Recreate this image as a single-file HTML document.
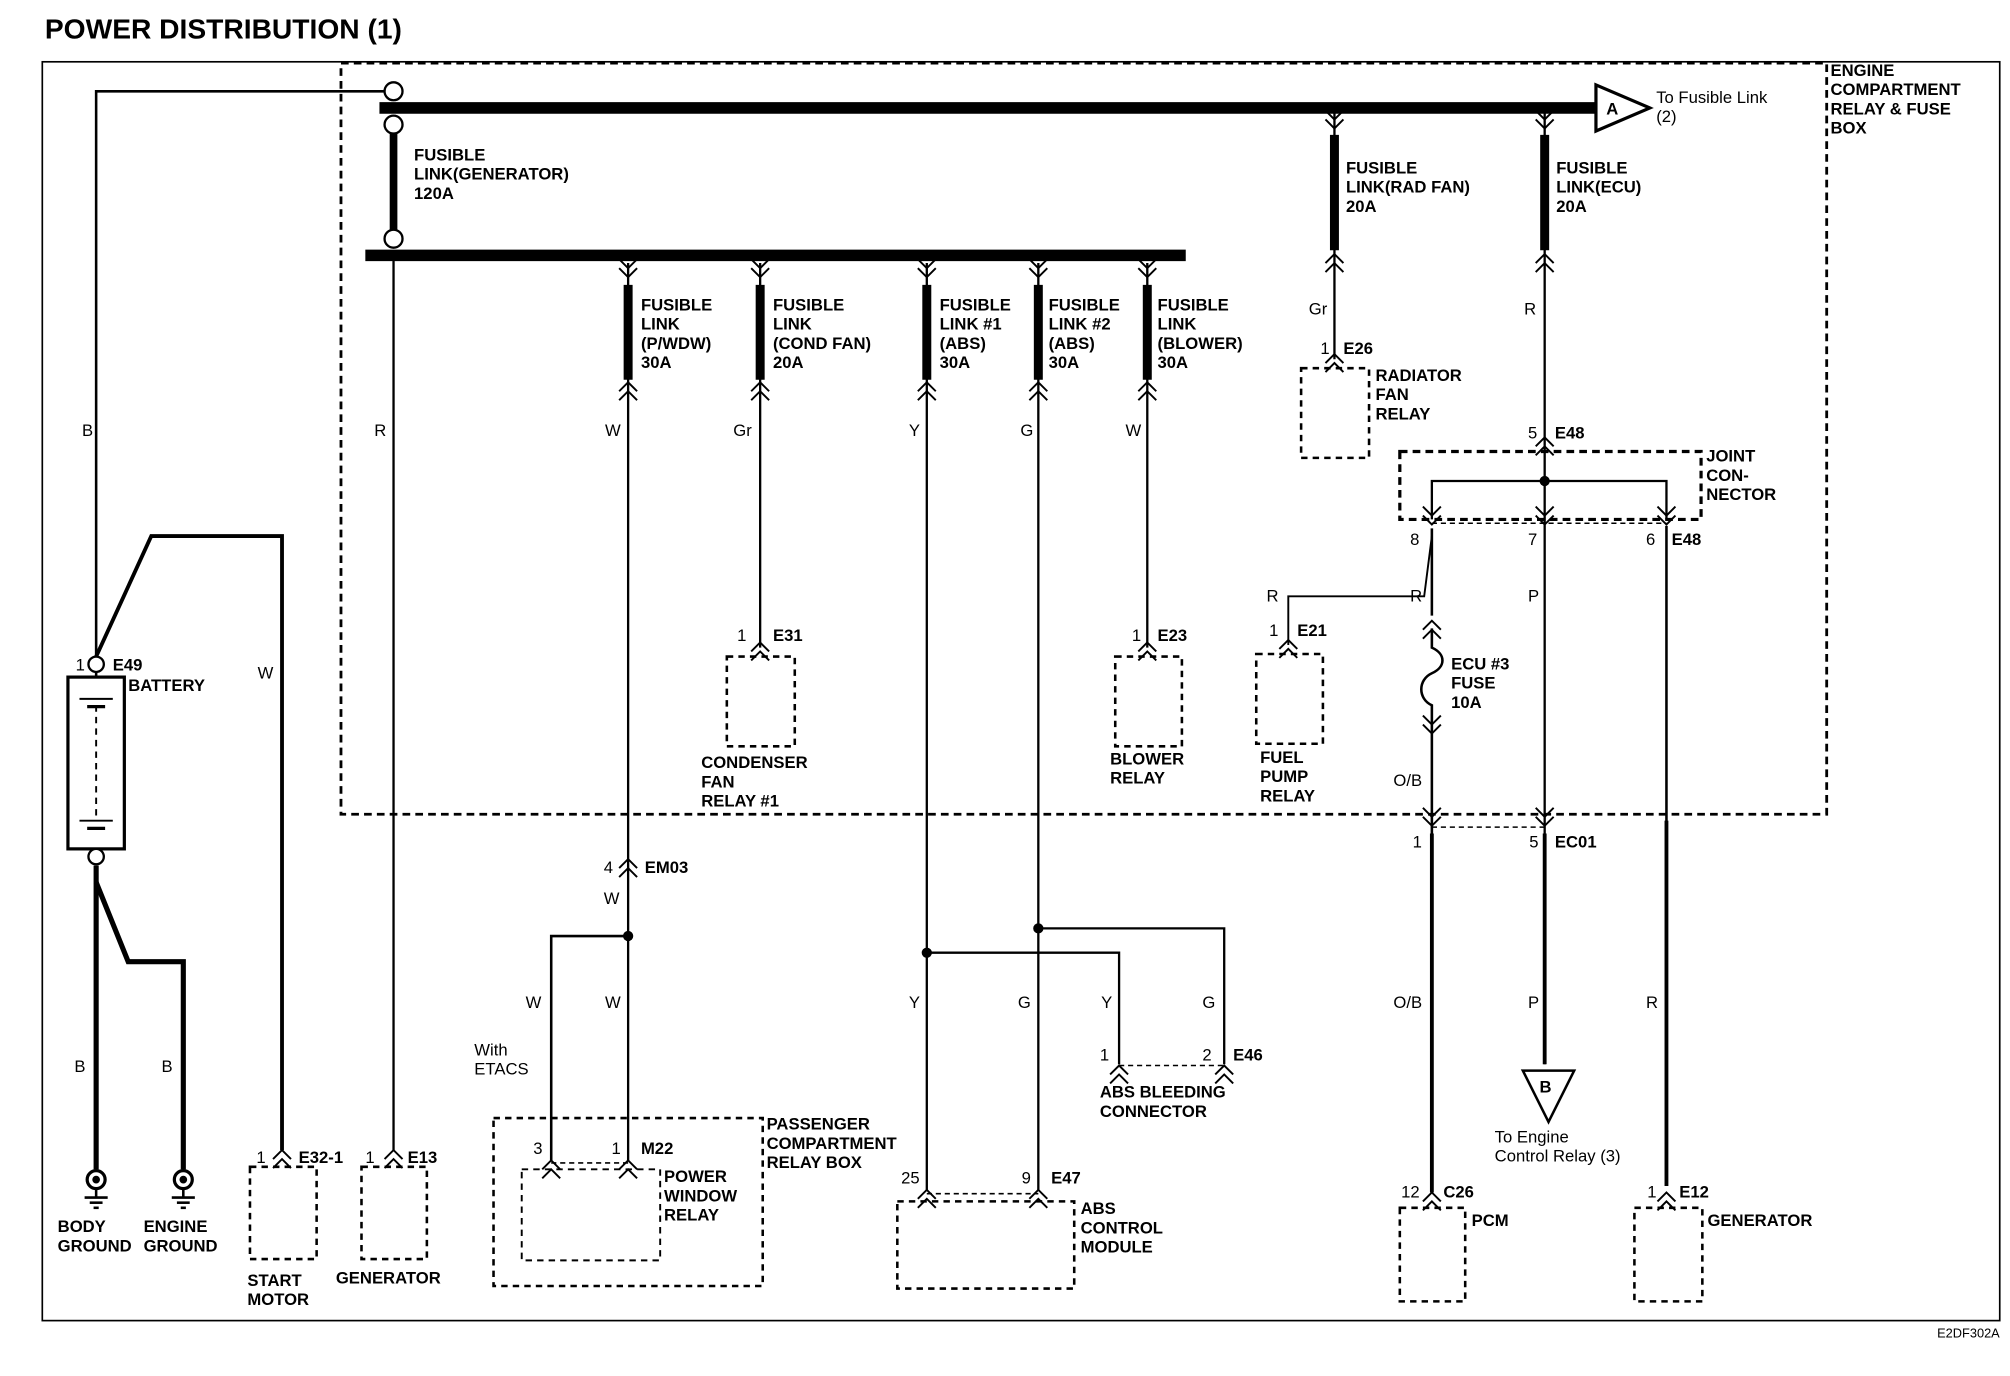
<!DOCTYPE html>
<html><head><meta charset="utf-8"><style>
html,body{margin:0;padding:0;background:#fff}
svg{display:block}
text{font-family:"Liberation Sans",Arial,sans-serif;font-weight:bold;font-size:13px;fill:#000}
.n{font-weight:normal}
</style></head><body>
<svg width="2010" height="1376" viewBox="0 0 1568 1073" xmlns="http://www.w3.org/2000/svg">
<defs>
<path id="cd" d="M-7,-10 L0,-3 L7,-10 M-7,-3 L0,4 L7,-3" fill="none" stroke="#000" stroke-width="1.5"/>
<path id="cu" d="M-7,10 L0,3 L7,10 M-7,3 L0,-4 L7,3" fill="none" stroke="#000" stroke-width="1.5"/>
</defs>
<text x="35" y="30" style="font-size:22px">POWER DISTRIBUTION (1)</text>
<rect x="33" y="48" width="1527" height="982" fill="none" stroke="#000" stroke-width="1.3"/>
<rect x="266" y="49" width="1159" height="586" fill="none" stroke="#000" stroke-width="2.2" stroke-dasharray="6,4"/>
<text x="1428" y="59">ENGINE</text><text x="1428" y="74">COMPARTMENT</text><text x="1428" y="89">RELAY &amp; FUSE</text><text x="1428" y="104">BOX</text>

<g stroke="#000" fill="none">
<line x1="296" y1="84" x2="1245" y2="84" stroke-width="9"/>
<line x1="285" y1="199" x2="925" y2="199" stroke-width="9"/>
<line x1="307" y1="97" x2="307" y2="186" stroke-width="6"/>
<polyline points="300,71 75,71 75,512" stroke-width="2"/>
<line x1="307" y1="199" x2="307" y2="897" stroke-width="1.8"/>
<rect x="53" y="528" width="44" height="134" stroke-width="2.5"/>
<line x1="75" y1="524" x2="75" y2="528" stroke-width="2"/>
<line x1="75" y1="550" x2="75" y2="640" stroke-width="1.5" stroke-dasharray="5,4"/>
<line x1="62" y1="545" x2="88" y2="545" stroke-width="1.5"/><line x1="68" y1="551" x2="82" y2="551" stroke-width="2.5"/>
<line x1="62" y1="640" x2="88" y2="640" stroke-width="1.5"/><line x1="68" y1="646" x2="82" y2="646" stroke-width="2.5"/>
<polyline points="75,512 118,418 220,418 220,897" stroke-width="3"/>
<line x1="75" y1="675" x2="75" y2="912" stroke-width="4"/>
<polyline points="75,688 100,750 143,750 143,912" stroke-width="4"/>
<circle cx="75" cy="920" r="7" stroke-width="2.5"/><circle cx="75" cy="920" r="2.5" fill="#000"/>
<line x1="75" y1="927" x2="75" y2="934" stroke-width="2"/><line x1="66" y1="934" x2="84" y2="934" stroke-width="2"/><line x1="70" y1="938" x2="80" y2="938" stroke-width="2"/><line x1="73" y1="942" x2="77" y2="942" stroke-width="2"/>
<circle cx="143" cy="920" r="7" stroke-width="2.5"/><circle cx="143" cy="920" r="2.5" fill="#000"/>
<line x1="143" y1="927" x2="143" y2="934" stroke-width="2"/><line x1="134" y1="934" x2="152" y2="934" stroke-width="2"/><line x1="138" y1="938" x2="148" y2="938" stroke-width="2"/><line x1="141" y1="942" x2="145" y2="942" stroke-width="2"/>
<rect x="195" y="910" width="52" height="72" stroke-width="2" stroke-dasharray="5,4"/>
<rect x="282" y="910" width="51" height="72" stroke-width="2" stroke-dasharray="5,4"/>

<g stroke-width="1.8">
<line x1="490" y1="205" x2="490" y2="905"/>
<line x1="593" y1="205" x2="593" y2="505"/>
<line x1="723" y1="205" x2="723" y2="928"/>
<line x1="810" y1="205" x2="810" y2="928"/>
<line x1="895" y1="205" x2="895" y2="505"/>
<line x1="1041" y1="88" x2="1041" y2="280"/>
<line x1="1205" y1="88" x2="1205" y2="830"/>
</g>
<g stroke-width="7">
<line x1="490" y1="222" x2="490" y2="296"/><line x1="593" y1="222" x2="593" y2="296"/>
<line x1="723" y1="222" x2="723" y2="296"/><line x1="810" y1="222" x2="810" y2="296"/>
<line x1="895" y1="222" x2="895" y2="296"/><line x1="1041" y1="105" x2="1041" y2="195"/>
<line x1="1205" y1="105" x2="1205" y2="195"/>
</g>
<polyline points="490,730 430,730 430,905" stroke-width="2"/>
<rect x="385" y="872" width="210" height="131" stroke-width="2" stroke-dasharray="5,4"/>
<rect x="407" y="912" width="108" height="71" stroke-width="1.5" stroke-dasharray="5,4"/>
<line x1="430" y1="907" x2="490" y2="907" stroke-width="1.2" stroke-dasharray="4,3"/>
<rect x="567" y="512" width="53" height="70" stroke-width="2" stroke-dasharray="5,4"/>
<rect x="870" y="512" width="52" height="70" stroke-width="2" stroke-dasharray="5,4"/>
<rect x="1015" y="287" width="53" height="70" stroke-width="2" stroke-dasharray="5,4"/>
<rect x="980" y="510" width="52" height="70" stroke-width="2" stroke-dasharray="5,4"/>
<polyline points="723,743 873,743 873,830" stroke-width="1.8"/>
<polyline points="810,724 955,724 955,830" stroke-width="1.8"/>
<line x1="873" y1="831" x2="955" y2="831" stroke-width="1.2" stroke-dasharray="4,3"/>
<rect x="700" y="937" width="138" height="68" stroke-width="2" stroke-dasharray="5,4"/>
<line x1="723" y1="931" x2="810" y2="931" stroke-width="1.2" stroke-dasharray="4,3"/>
<rect x="1092" y="352" width="235" height="53" stroke-width="2.5" stroke-dasharray="6,4"/>
<polyline points="1117,405 1117,375 1300,375 1300,405" stroke-width="1.8"/>
<line x1="1117" y1="408" x2="1300" y2="408" stroke-width="1.2" stroke-dasharray="4,3"/>
<polyline points="1117,412 1117,480" stroke-width="2"/>
<polyline points="1117,418 1111,465 1005,465 1005,503" stroke-width="1.5"/>
<path d="M1117,490 L1117,505 C1128,510 1128,520 1117,525 C1106,530 1106,545 1117,550 L1117,930" stroke-width="2"/>
<line x1="1117" y1="645" x2="1205" y2="645" stroke-width="1.2" stroke-dasharray="4,3"/>
<line x1="1117" y1="650" x2="1117" y2="930" stroke-width="3"/>
<line x1="1205" y1="650" x2="1205" y2="830" stroke-width="3"/>
<line x1="1300" y1="410" x2="1300" y2="925" stroke-width="2"/>
<line x1="1300" y1="640" x2="1300" y2="925" stroke-width="3"/>
<polygon points="1188,835 1228,835 1208,875" stroke-width="2"/>
<rect x="1092" y="942" width="51" height="73" stroke-width="2" stroke-dasharray="5,4"/>
<rect x="1275" y="942" width="53" height="73" stroke-width="2" stroke-dasharray="5,4"/>
<polygon points="1245,66 1245,102 1287,84" fill="#fff" stroke-width="2.5"/>
</g>
<circle cx="307" cy="71" r="7" fill="#fff" stroke="#000" stroke-width="1.8"/>
<circle cx="307" cy="97" r="7" fill="#fff" stroke="#000" stroke-width="1.8"/>
<circle cx="307" cy="186" r="7" fill="#fff" stroke="#000" stroke-width="1.8"/>
<circle cx="75" cy="518" r="6" fill="#fff" stroke="#000" stroke-width="1.8"/>
<circle cx="75" cy="668" r="6" fill="#fff" stroke="#000" stroke-width="1.8"/>
<g fill="#000">
<circle cx="490" cy="730" r="4"/><circle cx="723" cy="743" r="4"/><circle cx="810" cy="724" r="4"/><circle cx="1205" cy="375" r="4"/>
</g>
<use href="#cd" x="490" y="212"/><use href="#cu" x="490" y="302"/>
<use href="#cd" x="593" y="212"/><use href="#cu" x="593" y="302"/>
<use href="#cd" x="723" y="212"/><use href="#cu" x="723" y="302"/>
<use href="#cd" x="810" y="212"/><use href="#cu" x="810" y="302"/>
<use href="#cd" x="895" y="212"/><use href="#cu" x="895" y="302"/>
<use href="#cd" x="1041" y="96"/><use href="#cu" x="1041" y="202"/>
<use href="#cd" x="1205" y="96"/><use href="#cu" x="1205" y="202"/>
<use href="#cu" x="490" y="674"/>
<use href="#cu" x="593" y="505"/><use href="#cu" x="895" y="505"/><use href="#cu" x="1041" y="280"/><use href="#cu" x="1005" y="503"/>
<use href="#cu" x="1205" y="345"/>
<use href="#cd" x="1117" y="405"/><use href="#cd" x="1205" y="405"/><use href="#cd" x="1300" y="405"/>
<use href="#cu" x="1117" y="488"/><use href="#cd" x="1117" y="568"/>
<use href="#cd" x="1117" y="640"/><use href="#cd" x="1205" y="640"/>
<use href="#cu" x="430" y="909"/><use href="#cu" x="490" y="909"/>
<use href="#cu" x="873" y="835"/><use href="#cu" x="955" y="835"/>
<use href="#cu" x="723" y="932"/><use href="#cu" x="810" y="932"/>
<use href="#cu" x="220" y="901"/><use href="#cu" x="307" y="901"/>
<use href="#cu" x="1117" y="934"/><use href="#cu" x="1300" y="934"/>

<text x="1253" y="89" style="font-size:13px">A</text>
<text x="1201" y="852">B</text>
<text class="n" x="1292" y="80">To Fusible Link</text><text class="n" x="1292" y="95">(2)</text>
<text x="323" y="125">FUSIBLE</text><text x="323" y="140">LINK(GENERATOR)</text><text x="323" y="155">120A</text>
<text x="1050" y="135">FUSIBLE</text><text x="1050" y="150">LINK(RAD FAN)</text><text x="1050" y="165">20A</text>
<text x="1214" y="135">FUSIBLE</text><text x="1214" y="150">LINK(ECU)</text><text x="1214" y="165">20A</text>
<text x="500" y="242">FUSIBLE</text><text x="500" y="257">LINK</text><text x="500" y="272">(P/WDW)</text><text x="500" y="287">30A</text>
<text x="603" y="242">FUSIBLE</text><text x="603" y="257">LINK</text><text x="603" y="272">(COND FAN)</text><text x="603" y="287">20A</text>
<text x="733" y="242">FUSIBLE</text><text x="733" y="257">LINK #1</text><text x="733" y="272">(ABS)</text><text x="733" y="287">30A</text>
<text x="818" y="242">FUSIBLE</text><text x="818" y="257">LINK #2</text><text x="818" y="272">(ABS)</text><text x="818" y="287">30A</text>
<text x="903" y="242">FUSIBLE</text><text x="903" y="257">LINK</text><text x="903" y="272">(BLOWER)</text><text x="903" y="287">30A</text>
<text class="n" x="64" y="340">B</text><text class="n" x="292" y="340">R</text><text class="n" x="472" y="340">W</text>
<text class="n" x="572" y="340">Gr</text><text class="n" x="709" y="340">Y</text><text class="n" x="796" y="340">G</text><text class="n" x="878" y="340">W</text>
<text class="n" x="1021" y="245">Gr</text><text class="n" x="1189" y="245">R</text>
<text class="n" x="1030" y="276">1</text><text x="1048" y="276">E26</text>
<text x="1073" y="297">RADIATOR</text><text x="1073" y="312">FAN</text><text x="1073" y="327">RELAY</text>
<text class="n" x="1192" y="342">5</text><text x="1213" y="342">E48</text>
<text x="1331" y="360">JOINT</text><text x="1331" y="375">CON-</text><text x="1331" y="390">NECTOR</text>
<text class="n" x="1100" y="425">8</text><text class="n" x="1192" y="425">7</text><text class="n" x="1284" y="425">6</text><text x="1304" y="425">E48</text>
<text class="n" x="988" y="469">R</text><text class="n" x="1100" y="469">R</text><text class="n" x="1192" y="469">P</text>
<text class="n" x="990" y="496">1</text><text x="1012" y="496">E21</text>
<text x="1132" y="522">ECU #3</text><text x="1132" y="537">FUSE</text><text x="1132" y="552">10A</text>
<text x="983" y="595">FUEL</text><text x="983" y="610">PUMP</text><text x="983" y="625">RELAY</text>
<text class="n" x="1087" y="613">O/B</text>
<text class="n" x="575" y="500">1</text><text x="603" y="500">E31</text>
<text x="547" y="599">CONDENSER</text><text x="547" y="614">FAN</text><text x="547" y="629">RELAY #1</text>
<text class="n" x="883" y="500">1</text><text x="903" y="500">E23</text>
<text x="866" y="596">BLOWER</text><text x="866" y="611">RELAY</text>
<text class="n" x="59" y="523">1</text><text x="88" y="523">E49</text><text x="100" y="539">BATTERY</text>
<text class="n" x="201" y="529">W</text>
<text class="n" x="1102" y="661">1</text><text class="n" x="1193" y="661">5</text><text x="1213" y="661">EC01</text>
<text class="n" x="471" y="681">4</text><text x="503" y="681">EM03</text><text class="n" x="471" y="705">W</text>
<text class="n" x="410" y="786">W</text><text class="n" x="472" y="786">W</text>
<text class="n" x="709" y="786">Y</text><text class="n" x="794" y="786">G</text><text class="n" x="859" y="786">Y</text><text class="n" x="938" y="786">G</text>
<text class="n" x="1087" y="786">O/B</text><text class="n" x="1192" y="786">P</text><text class="n" x="1284" y="786">R</text>
<text class="n" x="58" y="836">B</text><text class="n" x="126" y="836">B</text>
<text class="n" x="370" y="823">With</text><text class="n" x="370" y="838">ETACS</text>
<text class="n" x="858" y="827">1</text><text class="n" x="938" y="827">2</text><text x="962" y="827">E46</text>
<text x="858" y="856">ABS BLEEDING</text><text x="858" y="871">CONNECTOR</text>
<text x="598" y="881">PASSENGER</text><text x="598" y="896">COMPARTMENT</text><text x="598" y="911">RELAY BOX</text>
<text class="n" x="1166" y="891">To Engine</text><text class="n" x="1166" y="906">Control Relay (3)</text>
<text class="n" x="416" y="900">3</text><text class="n" x="477" y="900">1</text><text x="500" y="900">M22</text>
<text x="518" y="922">POWER</text><text x="518" y="937">WINDOW</text><text x="518" y="952">RELAY</text>
<text class="n" x="200" y="907">1</text><text x="233" y="907">E32-1</text>
<text class="n" x="285" y="907">1</text><text x="318" y="907">E13</text>
<text class="n" x="703" y="923">25</text><text class="n" x="797" y="923">9</text><text x="820" y="923">E47</text>
<text x="843" y="947">ABS</text><text x="843" y="962">CONTROL</text><text x="843" y="977">MODULE</text>
<text class="n" x="1093" y="934">12</text><text x="1126" y="934">C26</text><text x="1148" y="956">PCM</text>
<text class="n" x="1285" y="934">1</text><text x="1310" y="934">E12</text><text x="1332" y="956">GENERATOR</text>
<text x="45" y="961">BODY</text><text x="45" y="976">GROUND</text><text x="112" y="961">ENGINE</text><text x="112" y="976">GROUND</text>
<text x="193" y="1003">START</text><text x="193" y="1018">MOTOR</text><text x="262" y="1001">GENERATOR</text>
<text class="n" x="1560" y="1043" text-anchor="end" style="font-size:10px">E2DF302A</text>
</svg>
</body></html>
